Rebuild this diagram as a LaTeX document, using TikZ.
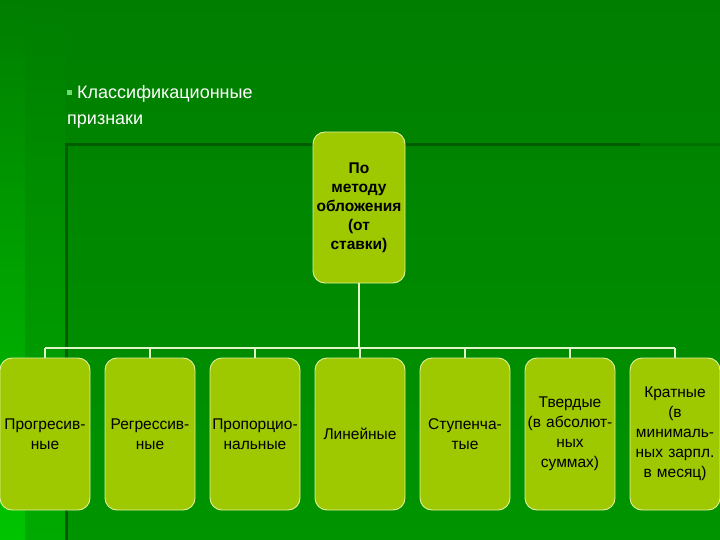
\documentclass[tikz,border=0pt]{standalone}
\usepackage{fontspec}
\setmainfont{Liberation Sans}
\definecolor{bgtop}{RGB}{0,126,0}
\definecolor{bgbot}{RGB}{0,148,0}
\definecolor{stripAbot}{RGB}{0,196,0}
\definecolor{stripBbot}{RGB}{0,170,0}
\definecolor{framedark}{RGB}{0,92,0}
\definecolor{framemid}{RGB}{0,112,0}
\definecolor{boxfill}{RGB}{158,200,0}
\definecolor{boxedge}{RGB}{225,240,160}
\definecolor{connline}{RGB}{225,245,200}
\definecolor{bullet}{RGB}{110,220,110}
\begin{document}
\begin{tikzpicture}[x=1pt,y=-1pt,
  box/.style={rounded corners=12pt, fill=boxfill, draw=boxedge, line width=0.9pt,
    minimum width=90pt, minimum height=152pt, text width=90pt, inner sep=0pt,
    align=center, font=\fontsize{15.5}{20}\selectfont, text=black},
  topbox/.style={box, minimum width=92pt, minimum height=151pt, text width=92pt,
    font=\bfseries\fontsize{15.5}{19}\selectfont},
  conn/.style={draw=connline, line width=1.4pt}]
\useasboundingbox (0,0) rectangle (720,540);
% background
\shade[top color=bgtop, bottom color=bgbot] (0,0) rectangle (720,540);
\shade[top color=bgtop, bottom color=stripBbot] (25,0) rectangle (65,540);
\shade[top color=bgtop, bottom color=stripAbot] (0,0) rectangle (25,540);
\draw[framemid, line width=3pt] (640,145) -- (720,145);
\draw[framedark, line width=3pt] (640,145) -- (66,145) -- (66,540);
% title
\node[anchor=north west, align=left, text=white, inner sep=0pt,
  font=\fontsize{18}{26}\selectfont] (title) at (67,85)
  {\textcolor{bullet}{\rule[3pt]{5pt}{5pt}}\ Классификационные\\признаки};
% nodes
\node[topbox] (top) at (359,207.5) {По\\методу\\обложения\\(от\\ставки)};
\node[box] (c1) at (45,434) {Прогресив-\\ные};
\node[box] (c2) at (150,434) {Регрессив-\\ные};
\node[box] (c3) at (255,434) {Пропорцио-\\нальные};
\node[box] (c4) at (360,434) {Линейные};
\node[box] (c5) at (465,434) {Ступенча-\\тые};
\node[box] (c6) at (570,434) {Твердые\\(в абсолют-\\ных\\суммах)};
\node[box] (c7) at (675,434) {Кратные\\(в\\минималь-\\ных зарпл.\\в месяц)};
% connectors
\coordinate (bus) at (359,348);
\draw[conn] (top.south) -- (bus);
\draw[conn] (bus -| c1) -- (bus -| c7);
\foreach \i in {1,...,7} {\draw[conn] (bus -| c\i) -- (c\i.north);}
\end{tikzpicture}
\end{document}
